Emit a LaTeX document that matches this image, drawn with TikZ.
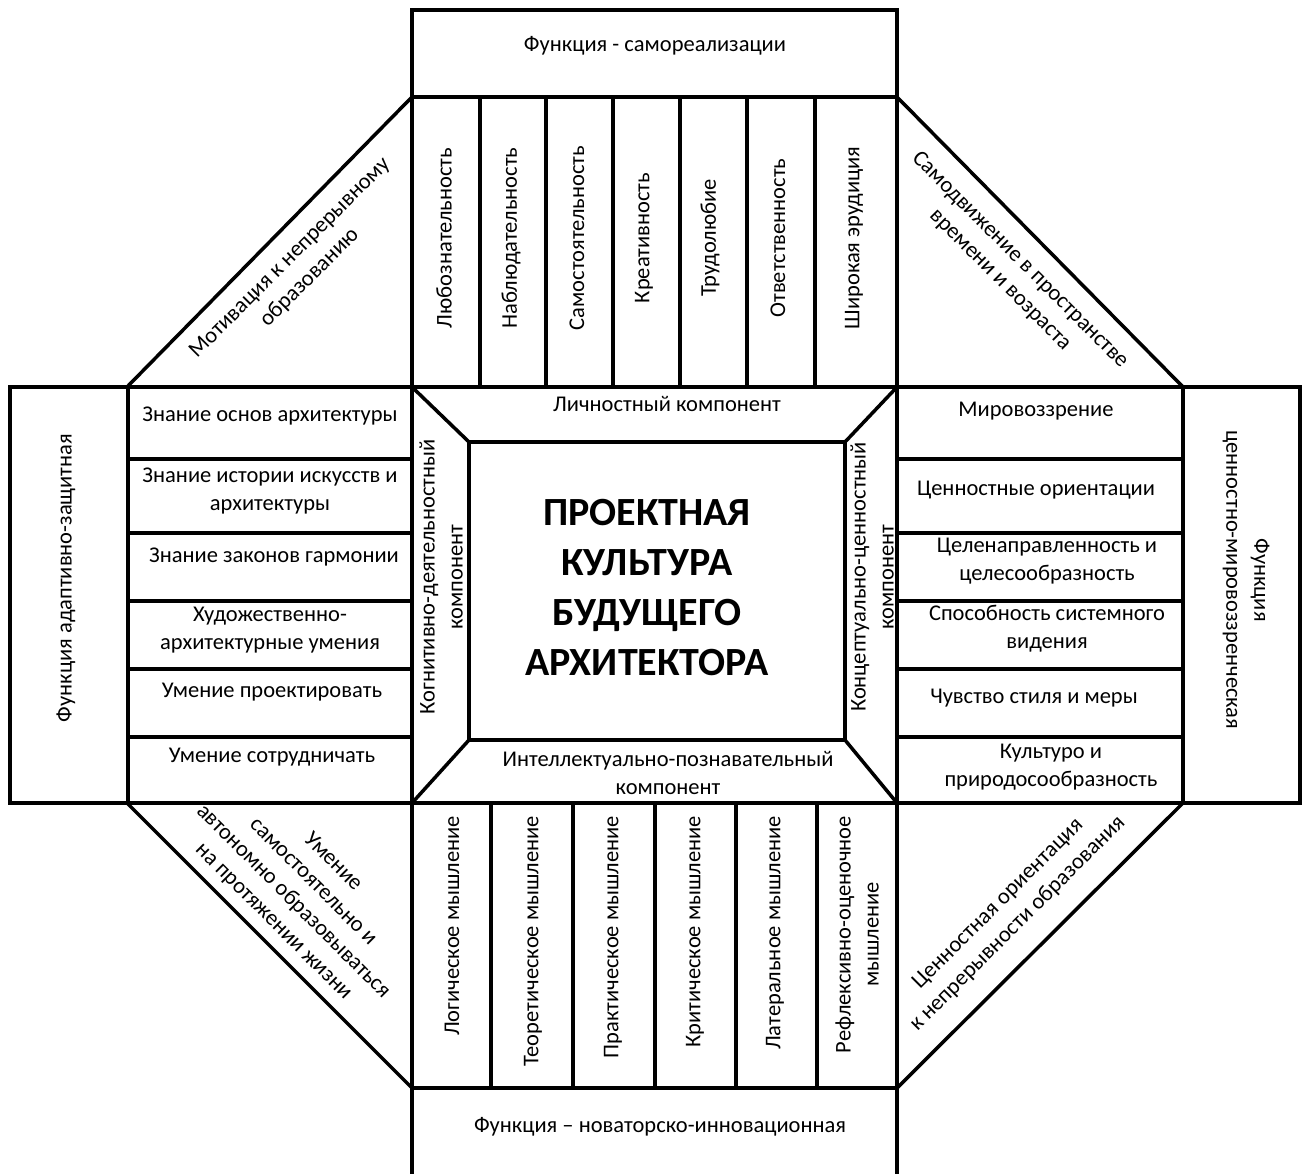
\documentclass[tikz,border=0pt]{standalone}
\usepackage{fontspec}
\setmainfont{Carlito}
\tikzset{
  frame/.style={line width=3.5pt},
  lbl/.style={inner sep=0pt, align=center, font=\fontsize{22.5}{28}\selectfont},
  uplbl/.style={lbl, rotate=90},
  downlbl/.style={lbl, rotate=-90},
}
\begin{document}
\begin{tikzpicture}[x=1pt,y=-1pt]
      \useasboundingbox (0,0) rectangle (1308,1174);
      \coordinate (TL) at (412,387);
      \coordinate (TR) at (897,387);
      \coordinate (BL) at (412,803);
      \coordinate (BR) at (897,803);
      \coordinate (iTL) at (469,442);
      \coordinate (iTR) at (845,442);
      \coordinate (iBL) at (469,740);
      \coordinate (iBR) at (845,740);
      \draw[frame] (412,10) rectangle (897,97);
      \node[lbl] (Ftop) at (655,46) {Функция - самореализации};
      \draw[frame] (412,97) rectangle (TR);
      \foreach \x in {480,546,613,680,747,815}
        \draw[frame] (\x,97) -- (\x,387);
      \foreach \x/\t [count=\i] in {444/Любознательность, 511/Наблюдательность, 577/Самостоятельность, 644/Креативность, 710/Трудолюбие, 778/Ответственность, 854/Широкая эрудиция}
        \node[uplbl] (Q\i) at (\x,238) {\t};
      \draw[frame] (412,97) -- (127,387);
      \draw[frame] (897,97) -- (1183,387);
      \node[lbl, rotate=45] (Motiv) at (300,268) {Мотивация к непрерывному\\образованию};
      \node[lbl, rotate=-45] (Samod) at (1010,270) {Самодвижение в пространстве\\времени и возраста};
      \draw[frame] (10,387) rectangle (128,803);
      \node[uplbl] (Fleft) at (66,578) {Функция адаптивно-защитная};
      \draw[frame] (128,387) rectangle (BL);
      \foreach \y in {459,533,601,669,737}
        \draw[frame] (128,\y) -- (412,\y);
      \node[lbl] (K1) at (270,416) {Знание основ архитектуры};
      \node[lbl] (K2) at (270,491) {Знание истории искусств и\\архитектуры};
      \node[lbl] (K3) at (274,557) {Знание законов гармонии};
      \node[lbl] (K4) at (270,630) {Художественно-\\архитектурные умения};
      \node[lbl] (K5) at (272,692) {Умение проектировать};
      \node[lbl] (K6) at (272,757) {Умение сотрудничать};
      \draw[frame] (TL) rectangle (BR);
      \draw[frame] (iTL) rectangle (iBR);
      \draw[frame] (TL) -- (iTL);
      \draw[frame] (TR) -- (iTR);
      \draw[frame] (BL) -- (iBL);
      \draw[frame] (BR) -- (iBR);
      \node[lbl] (Cpers) at (667,404) {Личностный компонент};
      \node[lbl] (Cint) at (668,773) {Интеллектуально-познавательный\\компонент};
      \node[uplbl] (Ccog) at (441,577) {Когнитивно-деятельностный\\компонент};
      \node[uplbl] (Ccon) at (872,577) {Концептуально-ценностный\\компонент};
      \node[inner sep=0pt, align=center, font=\fontsize{40}{50}\selectfont\bfseries] (Title) at (647,588) {ПРОЕКТНАЯ\\КУЛЬТУРА\\БУДУЩЕГО\\АРХИТЕКТОРА};
      \draw[frame] (TR) rectangle (1183,803);
      \foreach \y in {459,533,601,669,737}
        \draw[frame] (897,\y) -- (1183,\y);
      \node[lbl] (V1) at (1036,411) {Мировоззрение};
      \node[lbl] (V2) at (1036,490) {Ценностные ориентации};
      \node[lbl] (V3) at (1047,561) {Целенаправленность и\\целесообразность};
      \node[lbl] (V4) at (1047,629) {Способность системного\\видения};
      \node[lbl] (V5) at (1034,698) {Чувство стиля и меры};
      \node[lbl] (V6) at (1051,767) {Культуро и\\природосообразность};
      \draw[frame] (1183,387) rectangle (1300,803);
      \node[downlbl] (Fright) at (1246,580) {Функция\\ценностно-мировоззренческая};
      \draw[frame] (BL) rectangle (897,1088);
      \foreach \x in {491,573,655,736,817}
        \draw[frame] (\x,803) -- (\x,1088);
      \foreach \x/\t [count=\i] in {452/Логическое мышление, 533/Теоретическое мышление, 613/Практическое мышление, 695/Критическое мышление, 775/Латеральное мышление}
        \node[uplbl, anchor=east] (M\i) at (\x,816) {\t};
      \node[uplbl, anchor=east] (M6) at (857,816) {Рефлексивно-оценочное\\мышление};
      \draw[frame] (127,803) -- (412,1088);
      \draw[frame] (1183,803) -- (897,1088);
      \node[lbl, rotate=-45] (Umen) at (303,892) {Умение\\самостоятельно и\\автономно образовываться\\на протяжении жизни};
      \node[lbl, rotate=45] (Cenn) at (1008,914) {Ценностная ориентация\\к непрерывности образования};
      \draw[frame] (412,1088) -- (412,1174);
      \draw[frame] (897,1088) -- (897,1174);
      \node[lbl] (Fbot) at (660,1127) {Функция -- новаторско-инновационная};
\end{tikzpicture}
\end{document}
